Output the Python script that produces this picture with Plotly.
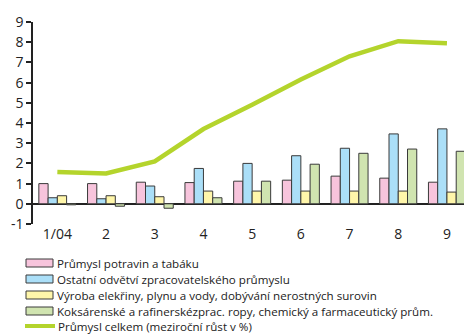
import plotly.graph_objects as go

months = ["1/04", "2", "3", "4", "5", "6", "7", "8", "9"]

food = [1.0, 1.0, 1.07, 1.05, 1.12, 1.17, 1.37, 1.27, 1.07]
other_manuf = [0.3, 0.25, 0.88, 1.75, 2.0, 2.38, 2.75, 3.46, 3.71]
energy = [0.4, 0.4, 0.35, 0.63, 0.63, 0.63, 0.63, 0.63, 0.58]
chem = [-0.05, -0.12, -0.22, 0.3, 1.12, 1.96, 2.5, 2.71, 2.6]
total = [1.58, 1.5, 2.1, 3.7, 4.9, 6.15, 7.3, 8.05, 7.95]

y_ticks = [-1, 0, 1, 2, 3, 4, 5, 6, 7, 8, 9]
y_tick_labels = ["-1", "0", "1", "2", "3", "4", "5", "6", "7", "8", "9"]

bar_series = [
    ("Průmysl potravin a tabáku", food, "#f7c4dc"),
    ("Ostatní odvětví zpracovatelského průmyslu", other_manuf, "#abdff8"),
    ("Výroba elekřiny, plynu a vody, dobývání nerostných surovin", energy, "#fff6aa"),
    ("Koksárenské a rafinerskézprac. ropy, chemický a farmaceutický prům.", chem, "#d0e4b0"),
]
line_name = "Průmysl celkem (meziroční růst v %)"
line_color = "#b4d42c"
outline = "#3a3a3a"
font_family = "Open Sans, DejaVu Sans, sans-serif"

fig = go.Figure()
for name, vals, color in bar_series:
    fig.add_trace(go.Bar(
        x=months, y=vals, name=name,
        marker=dict(color=color, line=dict(color=outline, width=1)),
        showlegend=False,
    ))
fig.add_trace(go.Scatter(
    x=months, y=total, name=line_name, mode="lines",
    line=dict(color=line_color, width=4.5), showlegend=False,
))

# Hand-drawn legend below the plot (paper coordinates in pixels)
W, H = 464, 334
ml, mr, mt, mb = 33, 0, 22, 110
pw, ph = W - ml - mr, H - mt - mb
shapes = []
annotations = []
row_y = [263, 279, 295, 311, 326]
x0_px, x1_px, text_px = 26, 53, 55
legend_font = dict(size=11.6, color="#222", family=font_family)


def px_to_paper(xp, yp):
    return (xp - ml) / pw, (H - mb - yp) / ph


for i, (name, _, color) in enumerate(bar_series):
    yc = row_y[i]
    ax0, ay0 = px_to_paper(x0_px, yc - 4)
    ax1, ay1 = px_to_paper(x1_px, yc + 4)
    shapes.append(dict(type="rect", xref="paper", yref="paper",
                       x0=ax0, x1=ax1, y0=ay1, y1=ay0,
                       fillcolor=color, line=dict(color=outline, width=1)))
    tx, ty = px_to_paper(text_px, yc)
    annotations.append(dict(text=name, xref="paper", yref="paper", x=tx, y=ty,
                            xanchor="left", yanchor="middle", showarrow=False,
                            font=legend_font))

yc = row_y[4]
lx0, ly = px_to_paper(x0_px - 1, yc)
lx1, _ = px_to_paper(x1_px + 2, yc)
shapes.append(dict(type="line", xref="paper", yref="paper",
                   x0=lx0, x1=lx1, y0=ly, y1=ly,
                   line=dict(color=line_color, width=4)))
tx, ty = px_to_paper(text_px + 1, yc)
annotations.append(dict(text=line_name, xref="paper", yref="paper", x=tx, y=ty,
                        xanchor="left", yanchor="middle", showarrow=False,
                        font=legend_font))

fig.update_layout(
    width=W, height=H,
    margin=dict(l=ml, r=mr, t=mt, b=mb),
    paper_bgcolor="white", plot_bgcolor="white",
    barmode="group", bargap=0.24, bargroupgap=0,
    font=dict(family=font_family, size=13, color="#222"),
    shapes=shapes, annotations=annotations,
    showlegend=False,
    xaxis=dict(range=[-0.5, 8.35], showline=False, showgrid=False,
               ticks="", tickfont=dict(size=14), zeroline=False),
    yaxis=dict(range=[-1, 9], tickvals=y_ticks, ticktext=y_tick_labels,
               showgrid=False, showline=True,
               linecolor="#222", linewidth=1.5, ticks="outside",
               ticklen=5, tickcolor="#222", tickwidth=1.5,
               zeroline=True, zerolinecolor="#222", zerolinewidth=1.5,
               tickfont=dict(size=14)),
)

fig.write_html("out.html")
